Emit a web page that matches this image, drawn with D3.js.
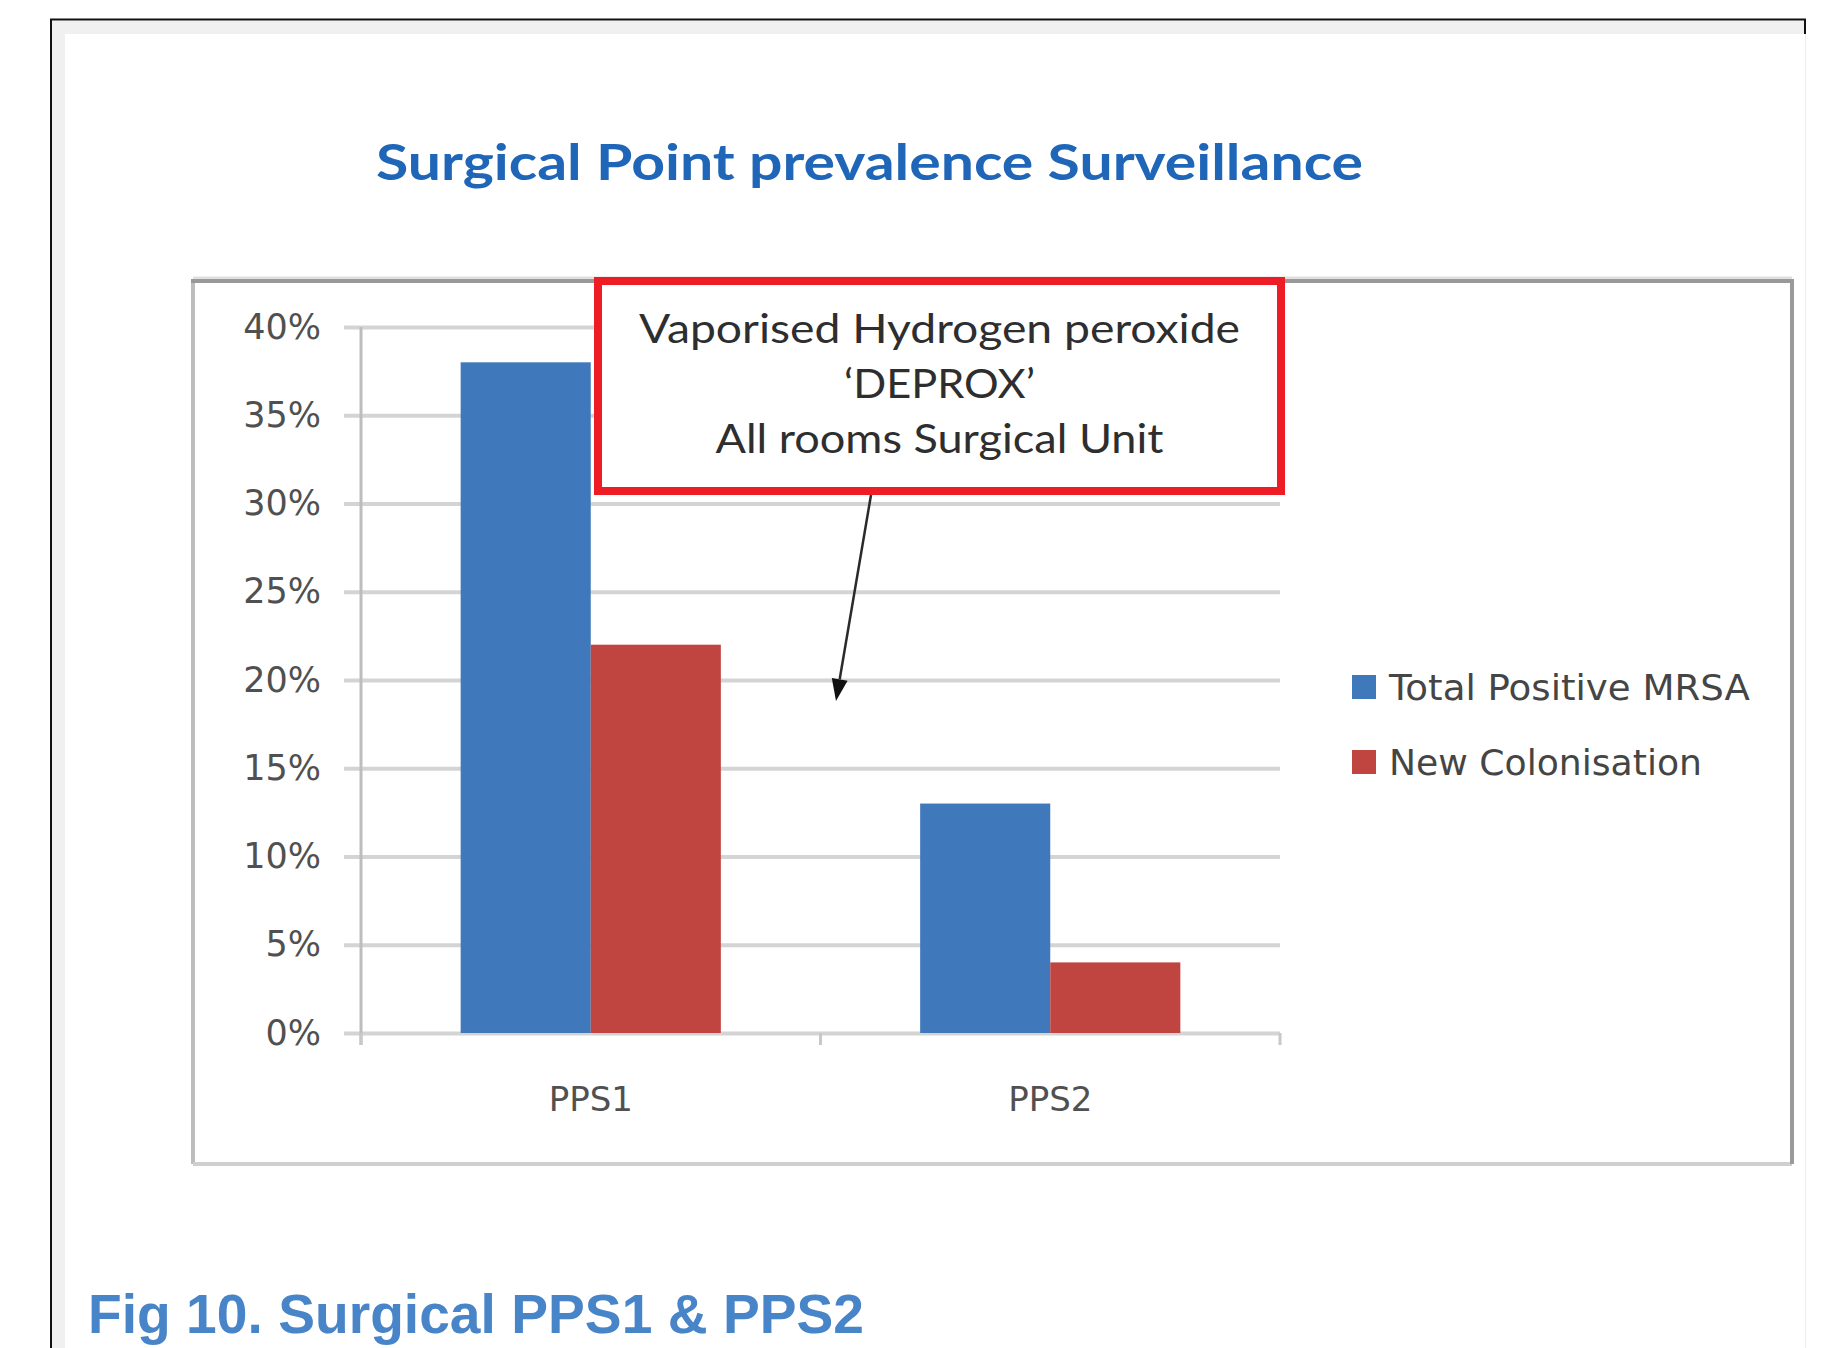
<!DOCTYPE html>
<html><head><meta charset="utf-8">
<script src="https://cdn.jsdelivr.net/npm/d3@7"></script>
<style>body{margin:0;background:#fff;} svg{display:block;}</style>
</head><body>
<svg id="chart" width="1832" height="1348"></svg>
<script>
// ---- data ----
const categories = ["PPS1", "PPS2"];
const seriesNames = ["Total Positive MRSA", "New Colonisation"];
const totalPositiveMRSA = [0.38, 0.13];
const newColonisation = [0.22, 0.04];
const seriesColors = ["#4079BB", "#C04541"];
const yTicks = [0, 0.05, 0.10, 0.15, 0.20, 0.25, 0.30, 0.35, 0.40];
const yTickLabels = ["0%", "5%", "10%", "15%", "20%", "25%", "30%", "35%", "40%"];
const titleText = "Surgical Point prevalence Surveillance";
const annotationLines = ["Vaporised Hydrogen peroxide", "\u2018DEPROX\u2019", "All rooms Surgical Unit"];
const captionText = "Fig 10. Surgical PPS1 & PPS2";

const seriesValues = [totalPositiveMRSA, newColonisation];

const svg = d3.select("#chart");

// ---- page frame ----
svg.append("rect").attr("x", 52).attr("y", 21).attr("width", 1753).attr("height", 13).attr("fill", "#f0f0f0");
svg.append("rect").attr("x", 52).attr("y", 21).attr("width", 13).attr("height", 1327).attr("fill", "#f0f0f0");
svg.append("line").attr("x1", 50).attr("x2", 1806).attr("y1", 19.5).attr("y2", 19.5).attr("stroke", "#111").attr("stroke-width", 2);
svg.append("line").attr("x1", 51).attr("x2", 51).attr("y1", 19).attr("y2", 1348).attr("stroke", "#111").attr("stroke-width", 2);
svg.append("line").attr("x1", 1805).attr("x2", 1805).attr("y1", 19).attr("y2", 34).attr("stroke", "#111").attr("stroke-width", 2);
svg.append("line").attr("x1", 1805.5).attr("x2", 1805.5).attr("y1", 34).attr("y2", 1348).attr("stroke", "#ececec").attr("stroke-width", 1);

// ---- title ----
svg.append("text").attr("x", 376).attr("y", 180)
  .attr("font-family", "Lato, 'Open Sans', sans-serif").attr("font-weight", "bold")
  .attr("font-size", 50).attr("fill", "#1F66B8")
  .attr("textLength", 987).attr("lengthAdjust", "spacingAndGlyphs")
  .text(titleText);

// ---- chart area border ----
const ca = {l: 193, t: 281, r: 1792, b: 1164};
svg.append("rect").attr("x", ca.l).attr("y", ca.t).attr("width", ca.r - ca.l).attr("height", ca.b - ca.t).attr("fill", "#fff");
svg.append("line").attr("x1", ca.l).attr("x2", ca.r).attr("y1", ca.t - 3).attr("y2", ca.t - 3).attr("stroke", "#e0e0e0").attr("stroke-width", 3);
svg.append("line").attr("x1", ca.l).attr("x2", ca.l).attr("y1", ca.t).attr("y2", ca.b).attr("stroke", "#bdbdbd").attr("stroke-width", 4);
svg.append("line").attr("x1", ca.l).attr("x2", ca.r).attr("y1", ca.b).attr("y2", ca.b).attr("stroke", "#cfcfcf").attr("stroke-width", 4);
svg.append("line").attr("x1", ca.r).attr("x2", ca.r).attr("y1", ca.t).attr("y2", ca.b).attr("stroke", "#9a9a9a").attr("stroke-width", 4);
svg.append("line").attr("x1", ca.l - 2).attr("x2", ca.r + 2).attr("y1", ca.t).attr("y2", ca.t).attr("stroke", "#999").attr("stroke-width", 4);

// ---- scales ----
const plot = {l: 361, r: 1280, t: 327, b: 1033};
const y = d3.scaleLinear().domain([0, 0.4]).range([plot.b, plot.t]);
const x0 = d3.scaleBand().domain(categories).range([plot.l, plot.r]).padding(0);
const x1 = d3.scaleBand().domain(seriesNames).range([0, x0.bandwidth()]).paddingInner(0).paddingOuter(0.766);

// ---- gridlines + y labels ----
const tickLen = 17;
const yAxis = d3.axisLeft(y).tickValues(yTicks)
  .tickFormat((d, i) => yTickLabels[i])
  .tickSize(-(plot.r - plot.l + tickLen)).tickPadding(23);
const gy = svg.append("g").attr("transform", `translate(${plot.l - tickLen},0)`).call(yAxis);
gy.select(".domain").remove();
gy.selectAll(".tick line").attr("stroke", "#d4d4d4").attr("stroke-width", 4);
gy.selectAll(".tick text").attr("font-family", "'DejaVu Sans', Verdana, sans-serif")
  .attr("font-size", 35).attr("fill", "#505050");

// y axis line
svg.append("line").attr("x1", plot.l).attr("x2", plot.l).attr("y1", y(0.4)).attr("y2", y(0) + 12)
  .attr("stroke", "#bdbdbd").attr("stroke-width", 3);

// x axis ticks at category boundaries
const boundaries = categories.map(c => x0(c)).concat([plot.r]);
svg.selectAll(".xtick").data(boundaries).enter().append("line")
  .attr("x1", d => d).attr("x2", d => d).attr("y1", y(0)).attr("y2", y(0) + 12)
  .attr("stroke", "#c8c8c8").attr("stroke-width", 3);
svg.selectAll(".xlabel").data(categories).enter().append("text")
  .attr("x", d => x0(d) + x0.bandwidth() / 2).attr("y", y(0) + 78)
  .attr("text-anchor", "middle")
  .attr("font-family", "'DejaVu Sans', Verdana, sans-serif").attr("font-size", 34).attr("fill", "#505050")
  .text(d => d);

// ---- bars ----
const groups = svg.selectAll(".grp").data(categories).enter().append("g")
  .attr("transform", d => `translate(${x0(d)},0)`);
groups.selectAll("rect").data((d, ci) => seriesNames.map((s, si) => ({s, si, v: seriesValues[si][ci]})))
  .enter().append("rect")
  .attr("x", d => x1(d.s)).attr("width", x1.bandwidth())
  .attr("y", d => y(d.v)).attr("height", d => y(0) - y(d.v))
  .attr("fill", d => seriesColors[d.si]);

// ---- legend ----
const legendWidths = [361, 313];
const legend = svg.append("g").attr("transform", "translate(1352,675)");
const li = legend.selectAll("g").data(seriesNames).enter().append("g")
  .attr("transform", (d, i) => `translate(0,${i * 75})`);
li.append("rect").attr("width", 24).attr("height", 24).attr("fill", (d, i) => seriesColors[i]);
li.append("text").attr("x", 37).attr("y", 25)
  .attr("font-family", "'DejaVu Sans', Verdana, sans-serif").attr("font-size", 36).attr("fill", "#454545")
  .attr("textLength", (d, i) => legendWidths[i]).attr("lengthAdjust", "spacingAndGlyphs")
  .text(d => d);

// ---- annotation ----
const box = {x: 598, y: 281, w: 683, h: 210};
svg.append("rect").attr("x", box.x).attr("y", box.y).attr("width", box.w).attr("height", box.h)
  .attr("fill", "#fff").attr("stroke", "#EE1D25").attr("stroke-width", 8);
const lineWidths = [601, 191, 448];
svg.selectAll(".ann").data(annotationLines).enter().append("text")
  .attr("x", box.x + box.w / 2).attr("y", (d, i) => 343 + i * 55)
  .attr("text-anchor", "middle")
  .attr("font-family", "Lato, 'Open Sans', sans-serif").attr("font-size", 40).attr("fill", "#2e2e2e")
  .attr("textLength", (d, i) => lineWidths[i]).attr("lengthAdjust", "spacingAndGlyphs")
  .text(d => d);

// arrow
const tip = {x: 836, y: 701};
const start = {x: 871, y: box.y + box.h + 4};
const ang = Math.atan2(tip.y - start.y, tip.x - start.x);
const hl = 22, hw = 8;
const bx = tip.x - hl * Math.cos(ang), by = tip.y - hl * Math.sin(ang);
svg.append("line").attr("x1", start.x).attr("y1", start.y).attr("x2", bx).attr("y2", by)
  .attr("stroke", "#2a2a2a").attr("stroke-width", 2.5);
svg.append("polygon").attr("points", [
  [tip.x, tip.y],
  [bx + hw * Math.sin(ang), by - hw * Math.cos(ang)],
  [bx - hw * Math.sin(ang), by + hw * Math.cos(ang)]
].map(p => p.join(",")).join(" ")).attr("fill", "#111");

// ---- caption ----
svg.append("text").attr("x", 88).attr("y", 1333)
  .attr("font-family", "'Liberation Sans', Arial, sans-serif").attr("font-weight", "bold")
  .attr("font-size", 55).attr("fill", "#4884C8")
  .attr("textLength", 776).attr("lengthAdjust", "spacingAndGlyphs")
  .text(captionText);
</script>
</body></html>
